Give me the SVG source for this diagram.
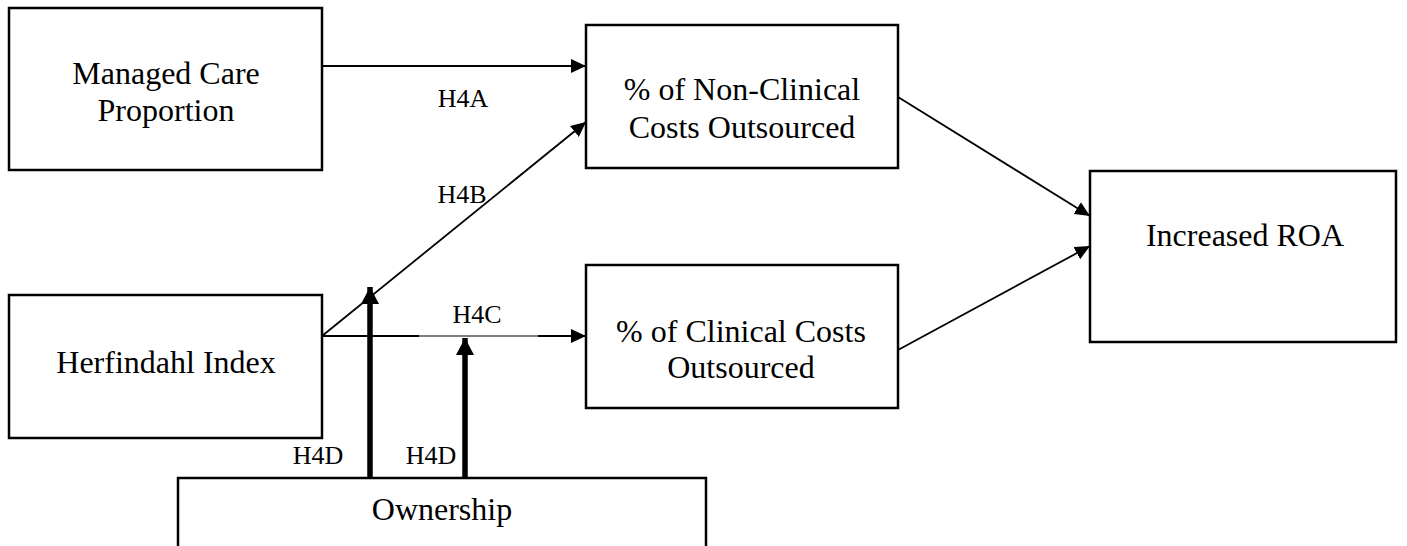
<svg xmlns="http://www.w3.org/2000/svg" width="1407" height="546" viewBox="0 0 1407 546">
<style>
.box{fill:#fff;stroke:#000;stroke-width:2.5}
.t{font-family:"Liberation Serif","Times New Roman",serif;font-size:32px;fill:#000;text-anchor:middle}
.l{font-family:"Liberation Serif","Times New Roman",serif;font-size:26px;fill:#000;text-anchor:middle}
.c{stroke:#000;stroke-width:1.8;fill:none}
.k{stroke:#000;stroke-width:5.5;fill:none}
</style>
<defs>
<marker id="a" markerUnits="userSpaceOnUse" markerWidth="16" markerHeight="14" refX="15" refY="7" orient="auto"><path d="M0,0 L15,7 L0,14 Z" fill="#000"/></marker>
<marker id="b" markerUnits="userSpaceOnUse" markerWidth="18" markerHeight="18" refX="17" refY="9" orient="auto"><path d="M0,0 L17,9 L0,18 Z" fill="#000"/></marker>
</defs>
<rect width="1407" height="546" fill="#fff"/>
<g id="connectors">
<line class="c" x1="322" y1="66" x2="586" y2="66" marker-end="url(#a)"/>
<line class="c" x1="322" y1="336" x2="586" y2="122" marker-end="url(#a)"/>
<line class="c" x1="322" y1="336" x2="419" y2="336"/>
<line stroke="#000" stroke-width="1.1" x1="418" y1="336" x2="539" y2="336"/>
<line class="c" x1="538" y1="336" x2="586" y2="336" marker-end="url(#a)"/>
<line class="c" x1="898" y1="97" x2="1090" y2="216" marker-end="url(#a)"/>
<line class="c" x1="898" y1="350" x2="1090" y2="246" marker-end="url(#a)"/>
<line class="k" x1="370" y1="478" x2="370" y2="287" marker-end="url(#b)"/>
<line class="k" x1="465" y1="478" x2="465" y2="338" marker-end="url(#b)"/>
<text class="l" x="463" y="107">H4A</text>
<text class="l" x="462" y="203">H4B</text>
<text class="l" x="477" y="323">H4C</text>
<text class="l" x="318" y="464">H4D</text>
<text class="l" x="431" y="464">H4D</text>
</g>
<g id="managed-care">
<rect class="box" x="9" y="8" width="313" height="162"/>
<text class="t" x="166" y="84">Managed Care</text>
<text class="t" x="166" y="121">Proportion</text>
</g>
<g id="non-clinical">
<rect class="box" x="586" y="25" width="312" height="143"/>
<text class="t" x="742" y="100">% of Non-Clinical</text>
<text class="t" x="742" y="138">Costs Outsourced</text>
</g>
<g id="herfindahl">
<rect class="box" x="9" y="295" width="313" height="143"/>
<text class="t" x="166" y="373">Herfindahl Index</text>
</g>
<g id="clinical">
<rect class="box" x="586" y="265" width="312" height="143"/>
<text class="t" x="741" y="342">% of Clinical Costs</text>
<text class="t" x="741" y="378">Outsourced</text>
</g>
<g id="roa">
<rect class="box" x="1090" y="171" width="306" height="171"/>
<text class="t" x="1245" y="246">Increased ROA</text>
</g>
<g id="ownership">
<rect class="box" x="178" y="478" width="528" height="80"/>
<text class="t" x="442" y="520">Ownership</text>
</g>
</svg>
